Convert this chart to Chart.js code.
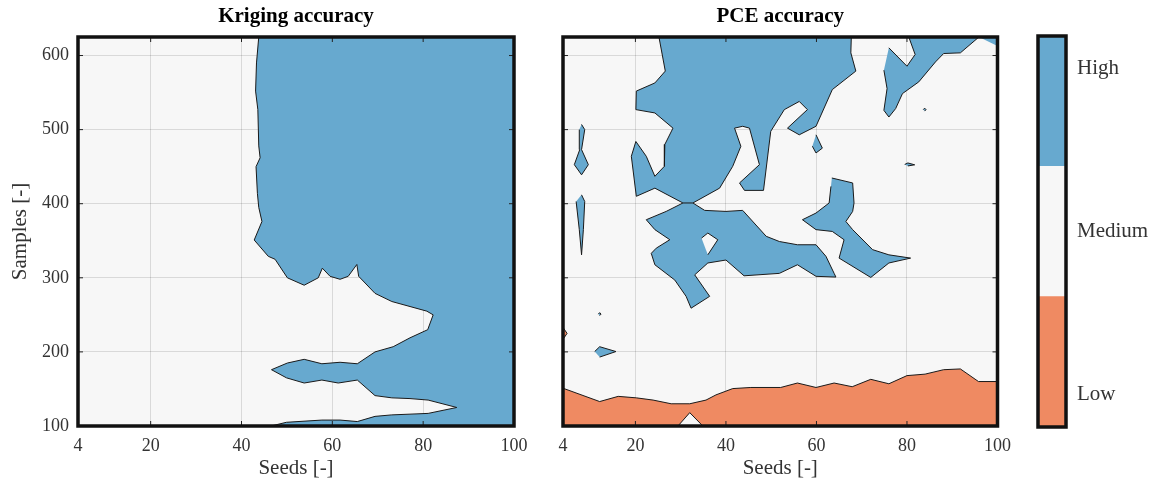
<!DOCTYPE html>
<html>
<head>
<meta charset="utf-8">
<title>Kriging vs PCE accuracy</title>
<script src="https://cdn.jsdelivr.net/npm/chart.js@4.4.0/dist/chart.umd.min.js"></script>
<style>
  html, body { margin: 0; padding: 0; background: #fff; }
  .wrap { position: relative; width: 1159px; height: 485px; }
  .wrap canvas { position: absolute; top: 0; }
</style>
</head>
<body>
<div class="wrap">
  <canvas id="krig" width="540" height="485" style="left:0"></canvas>
  <canvas id="pce" width="480" height="485" style="left:540px"></canvas>
  <canvas id="bar" width="139" height="485" style="left:1020px"></canvas>
</div>
<script>
// axis ticks
const seedTicks = [4, 20, 40, 60, 80, 100];
const sampleTicks = [100, 200, 300, 400, 500, 600];
const levels = ["Low", "Medium", "High"];
const levelTickPos = [0.25, 1.5, 2.75];

// contour regions, [seeds, samples]
const krigingHigh = [[43.8,625],[43.3,590],[43.1,552],[43.6,527],[43.8,478],[44.1,462],[43.2,450],[43.5,414],[43.8,395],[44.5,376],[42.8,351],[45.9,329],[47.4,325],[50.1,300],[53.8,290],[56.9,300],[57.8,313],[59.5,302],[61.7,298],[63.5,302],[65.4,318],[65.8,302],[69.4,279],[73.1,268],[80.8,255],[82.2,250],[81,230],[77.1,219],[73.4,207],[69.4,200],[65.5,184],[61.7,186],[57.7,184],[53.8,190],[50.1,185],[46.6,176],[49.9,165],[53.8,158],[57.7,162],[61.3,158],[65.5,162],[69.4,141],[73.1,138],[77.1,137],[81.1,135],[87.4,125],[81.1,117],[77.1,116],[73.1,115],[69.4,113],[65.5,106],[61.7,108],[57.7,108],[49.9,105],[46.5,100],[100,100],[100,625]];

const pceLow = [[4,151],[12.1,133],[16.2,140],[20.2,138],[23.9,135],[27.9,130],[32,130],[35.6,135],[37.8,142],[41.5,150.5],[45.5,152],[52.1,152],[55.8,158],[59.9,152],[63.9,158],[67.9,153],[72,163],[76,157],[80,168],[84,170],[88.1,176],[91.8,177],[95.8,160],[100,160],[100,100],[4,100]];
const pceLowEdge = [[4,233],[4.9,225],[4,217]];
const pceLowNotch = [[29.4,100],[32,118],[34.9,100]];

const pceHighTop = [[25.2,625],[26.6,579],[24.3,563],[20.2,552],[20.1,527],[24.3,522.5],[28.3,502],[26.5,480],[26.4,450.5],[24.3,437],[22.4,464],[20.1,484],[19.1,464],[20.2,410],[24.3,421],[30.5,401],[32.7,401],[38.6,421],[41.5,450.5],[43.3,477.5],[41.9,502],[43.7,504.5],[45.2,502],[47.4,452.7],[43,428],[44.1,418],[48.3,418],[49.9,497.7],[52.9,527],[56.2,538],[58,527],[53.6,502],[56.2,493],[59.9,504.5],[63.5,554],[68.7,579],[67.6,603.6],[67.7,625]];
const pceHighMid = [[32.7,401],[35.3,391],[40,389.6],[43.7,391],[48.9,356],[51.8,349],[55.8,344.6],[59.9,344.6],[62.1,329],[63.9,306],[64.3,301],[59.9,302],[55.8,317.6],[51.8,306],[44,302.7],[40,324],[36,320],[33.1,304],[36.4,275],[32.3,259],[31.2,275],[28.7,297],[24.3,317.6],[23.5,333],[24.6,340],[27.6,351.4],[24.3,365],[22.4,378.4],[26.8,389.6],[30.5,401]];
const pceMidHole = [[34.6,353.6],[36,360.4],[38.2,351.4],[36,331]];
const pceHighRight = [[63.4,434.7],[68,428],[68.3,401],[68,389.6],[66.5,376],[68,365],[72.4,338],[76,331],[80.8,326.6],[76,320],[72,300.5],[65,326.6],[66.1,351.4],[63.5,362.6],[59.9,365],[56.9,378.4],[59.9,387.4],[62.8,401],[63.2,423.4]];
const pceHighNE = [[76,610.4],[80,585.6],[81.8,601.4],[80.4,625],[95.9,625],[91.8,603.6],[88.1,602.7],[86.3,591.4],[82.6,564.4],[79,548.6],[77.5,528.4],[76,517],[74.9,526],[75.6,555.4],[74.9,580.2]];
const pceHighCorner = [[95.9,625],[100,625],[100,613]];
const pceSpikeUpper = [[8.1,507],[8.8,500],[8.1,473],[9.6,452.7],[8.1,439],[6.5,452.7],[7.7,473],[7.6,500]];
const pceSpikeLower = [[8.1,412],[8.8,403],[8.5,365],[8.1,331],[7.6,365],[6.9,403]];
const pceBlobA = [[11,200.5],[12.1,207],[15.7,200.5],[12.1,193]];
const pceBlobB = [[59.9,493],[61.3,475],[59.9,468.5],[59.1,477.5]];
const pceBlobC = [[79.5,453],[80.2,455],[81.7,452.5],[80.2,451]];
const pceDotA = [[11.8,251],[12.1,253],[12.4,251],[12.1,249]];
const pceDotB = [[83.6,527],[83.9,529],[84.2,527],[83.9,525]];

const colours = { Low: "#ef8a62", Medium: "#f7f7f7", High: "#67a9cf" };
const serif = "'Liberation Serif', 'Times New Roman', serif";
const textCol = "#333";

function region(points, level, order) {
    return {
        data: points.map(p => ({ x: p[0], y: p[1] })),
        showLine: true,
        fill: "shape",
        backgroundColor: colours[level],
        borderColor: "#1a1a1a",
        borderWidth: 1,
        pointRadius: 0,
        tension: 0,
        order: order,
    };
}

// plot background, thick box and inward tick marks
const framePlugin = {
    id: "frame",
    beforeDraw(chart, args, opts) {
        const a = chart.chartArea;
        if (opts.background) {
            chart.ctx.save();
            chart.ctx.fillStyle = opts.background;
            chart.ctx.fillRect(a.left, a.top, a.right - a.left, a.bottom - a.top);
            chart.ctx.restore();
        }
    },
    afterDraw(chart, args, opts) {
        const ctx = chart.ctx;
        const a = chart.chartArea;
        ctx.save();
        ctx.strokeStyle = "#222";
        ctx.lineWidth = 1;
        if (opts.ticks) {
            const xs = chart.scales.x, ys = chart.scales.y;
            ctx.beginPath();
            seedTicks.forEach(v => {
                const px = xs.getPixelForValue(v);
                ctx.moveTo(px, a.bottom); ctx.lineTo(px, a.bottom - 5);
                ctx.moveTo(px, a.top); ctx.lineTo(px, a.top + 5);
            });
            sampleTicks.forEach(v => {
                const py = ys.getPixelForValue(v);
                ctx.moveTo(a.left, py); ctx.lineTo(a.left + 5, py);
                ctx.moveTo(a.right, py); ctx.lineTo(a.right - 5, py);
            });
            ctx.stroke();
        }
        ctx.strokeStyle = "#111";
        ctx.lineWidth = 3.5;
        ctx.strokeRect(a.left, a.top, a.right - a.left, a.bottom - a.top);
        ctx.restore();
    },
};

function panelOptions(title, rightPad, yWidth, showY) {
    return {
        responsive: false,
        animation: false,
        layout: { padding: { left: 0, right: rightPad, top: 0, bottom: 0 } },
        plugins: {
            legend: { display: false },
            tooltip: { enabled: false },
            title: {
                display: true,
                text: title,
                fullSize: false,
                color: "#000",
                font: { family: serif, size: 21, weight: "bold" },
                padding: { top: 4.4, bottom: 7.4 },
            },
            frame: { background: colours.Medium, ticks: true },
        },
        scales: {
            x: {
                type: "linear",
                min: 4,
                max: 100,
                z: 1,
                afterBuildTicks: s => { s.ticks = seedTicks.map(v => ({ value: v })); },
                afterFit: s => { s.height = 59; },
                grid: { color: "rgba(0,0,0,0.12)", drawTicks: false },
                border: { display: false },
                ticks: { color: textCol, font: { family: serif, size: 18 }, padding: 9, maxRotation: 0, autoSkip: false },
                title: { display: true, text: "Seeds [-]", color: textCol, font: { family: serif, size: 21 }, padding: { top: 0, bottom: 4.4 } },
            },
            y: {
                type: "linear",
                min: 100,
                max: 625,
                z: 1,
                afterBuildTicks: s => { s.ticks = sampleTicks.map(v => ({ value: v })); },
                afterFit: s => { s.width = yWidth; },
                grid: { color: "rgba(0,0,0,0.12)", drawTicks: false },
                border: { display: false },
                ticks: { display: showY, color: textCol, font: { family: serif, size: 18 }, padding: 9 },
                title: { display: showY, text: "Samples [-]", color: textCol, font: { family: serif, size: 21 }, padding: { top: 7.4, bottom: 0 } },
            },
        },
    };
}

new Chart(document.getElementById("krig"), {
    type: "scatter",
    data: { datasets: [region(krigingHigh, "High", 1)] },
    options: panelOptions("Kriging accuracy", 26, 78, true),
    plugins: [framePlugin],
});

new Chart(document.getElementById("pce"), {
    type: "scatter",
    data: {
        datasets: [
            region(pceLow, "Low", 5),
            region(pceLowEdge, "Low", 5),
            region(pceLowNotch, "Medium", 4),
            region(pceHighTop, "High", 3),
            region(pceHighMid, "High", 3),
            region(pceHighRight, "High", 3),
            region(pceHighNE, "High", 3),
            region(pceHighCorner, "High", 3),
            region(pceSpikeUpper, "High", 3),
            region(pceSpikeLower, "High", 3),
            region(pceBlobA, "High", 3),
            region(pceBlobB, "High", 3),
            region(pceBlobC, "High", 3),
            region(pceDotA, "High", 3),
            region(pceDotB, "High", 3),
            region(pceMidHole, "Medium", 1),
        ],
    },
    options: panelOptions("PCE accuracy", 21, 23, false),
    plugins: [framePlugin],
});

// colour bar
new Chart(document.getElementById("bar"), {
    type: "bar",
    data: {
        labels: [""],
        datasets: levels.map(name => ({
            label: name,
            data: [1],
            backgroundColor: colours[name],
            borderWidth: 0,
            barPercentage: 1,
            categoryPercentage: 1,
        })),
    },
    options: {
        responsive: false,
        animation: false,
        layout: { padding: { left: 18, right: 0, top: 36, bottom: 58 } },
        plugins: {
            legend: { display: false },
            tooltip: { enabled: false },
            frame: { ticks: false },
        },
        scales: {
            x: { display: false, stacked: true },
            y: {
                stacked: true,
                position: "right",
                min: 0,
                max: 3,
                afterBuildTicks: s => { s.ticks = levelTickPos.map(v => ({ value: v })); },
                afterFit: s => { s.width = 93; },
                grid: { display: false, drawTicks: false },
                border: { display: false },
                ticks: { callback: (v, i) => levels[i], color: textCol, font: { family: serif, size: 21 }, padding: 11 },
            },
        },
    },
    plugins: [framePlugin],
});
</script>
</body>
</html>
